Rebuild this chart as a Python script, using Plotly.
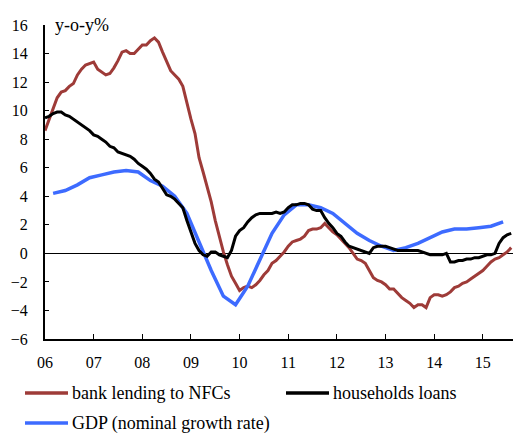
import plotly.graph_objects as go

# Monthly series, Jan 2006 .. Aug 2015 (y-o-y %)
nfc_lending = [
    8.6, 9.4, 10.2, 10.9, 11.3, 11.4, 11.7, 11.9, 12.5, 12.9, 13.2, 13.3,
    13.4, 12.9, 12.7, 12.5, 12.6, 13.0, 13.5, 14.1, 14.2, 14.0, 14.0, 14.3,
    14.6, 14.6, 14.9, 15.1, 14.8, 14.1, 13.4, 12.8, 12.5, 12.2, 11.7, 10.5,
    9.4, 8.4, 6.7, 5.7, 4.7, 3.6, 2.3, 1.1, 0.1, -0.8, -1.6, -2.1,
    -2.6, -2.4, -2.3, -2.4, -2.2, -1.9, -1.5, -1.2, -0.7, -0.5, -0.2, 0.1,
    0.5, 0.8, 0.9, 1.0, 1.2, 1.6, 1.7, 1.7, 1.8, 2.1, 1.8, 1.5,
    1.3, 1.0, 0.7, 0.4, 0.0, -0.4, -0.5, -0.7, -1.2, -1.7, -1.9, -2.0,
    -2.2, -2.5, -2.5, -2.8, -3.1, -3.3, -3.5, -3.8, -3.6, -3.6, -3.8, -3.1,
    -2.9, -2.9, -3.0, -2.9, -2.7, -2.4, -2.3, -2.1, -2.0, -1.8, -1.6, -1.4,
    -1.2, -0.9, -0.6, -0.4, -0.3, -0.1, 0.1, 0.4,
]
household_loans = [
    9.5, 9.6, 9.8, 9.9, 9.9, 9.7, 9.6, 9.4, 9.2, 9.0, 8.8, 8.6,
    8.3, 8.2, 8.0, 7.8, 7.5, 7.4, 7.1, 7.0, 6.9, 6.8, 6.6, 6.3,
    6.1, 5.9, 5.6, 5.2, 5.0, 4.5, 4.1, 4.0, 3.8, 3.5, 3.2, 2.3,
    1.5, 0.7, 0.2, -0.1, -0.2, 0.1, 0.1, -0.1, -0.2, -0.3, 0.2, 1.2,
    1.6, 1.8, 2.2, 2.5, 2.7, 2.8, 2.8, 2.8, 2.8, 2.9, 2.8, 2.9,
    3.2, 3.4, 3.4, 3.5, 3.5, 3.4, 3.1, 3.0, 3.0, 2.5, 2.1, 1.8,
    1.4, 1.2, 0.8, 0.5, 0.4, 0.3, 0.2, 0.1, 0.0, 0.4, 0.5, 0.5,
    0.5, 0.4, 0.3, 0.2, 0.2, 0.2, 0.2, 0.2, 0.2, 0.1, 0.0, -0.1,
    -0.1, -0.1, -0.1, 0.0, -0.6, -0.6, -0.5, -0.5, -0.4, -0.4, -0.3, -0.3,
    -0.2, -0.1, -0.1, 0.0, 0.7, 1.1, 1.3, 1.4,
]
# Quarterly nominal GDP growth, 2006Q1 .. 2015Q2
gdp_nominal = [
    4.2, 4.4, 4.8, 5.3, 5.5, 5.7, 5.8, 5.7, 5.1, 4.7, 4.0, 2.8,
    0.8, -1.2, -3.0, -3.6, -2.3, -0.5, 1.4, 2.7, 3.4, 3.4, 3.2, 2.8,
    2.1, 1.4, 0.9, 0.5, 0.2, 0.4, 0.7, 1.1, 1.5, 1.7, 1.7, 1.8,
    1.9, 2.2,
]
year_ticks = list(range(2006, 2016))
year_labels = ["06", "07", "08", "09", "10", "11", "12", "13", "14", "15"]
legend_names = ["bank lending to NFCs", "households loans", "GDP (nominal growth rate)"]

RED = "#9E3B38"
BLACK = "#000000"
BLUE = "#3D6BFF"

x_month = [2006 + i / 12 for i in range(len(nfc_lending))]
x_quarter = [2006 + (2 + 3 * k) / 12 for k in range(len(gdp_nominal))]

fig = go.Figure()
fig.add_trace(go.Scatter(x=x_month, y=nfc_lending, mode="lines",
                         line=dict(color=RED, width=3), name=legend_names[0]))
fig.add_trace(go.Scatter(x=x_quarter, y=gdp_nominal, mode="lines",
                         line=dict(color=BLUE, width=3.5), name=legend_names[2]))
fig.add_trace(go.Scatter(x=x_month, y=household_loans, mode="lines",
                         line=dict(color=BLACK, width=3), name=legend_names[1]))

FONT = "Liberation Serif, Times New Roman, serif"

L, T, B = 45, 25, 95
PW, PH = 513 - L, 434 - T - B

fig.update_layout(
    width=513, height=434,
    margin=dict(l=L, r=0, t=T, b=B, pad=0),
    paper_bgcolor="white", plot_bgcolor="white",
    showlegend=False,
    font=dict(family=FONT, size=15, color="black"),
    xaxis=dict(range=[2006, 2015.62], tickvals=year_ticks, ticktext=year_labels,
               showgrid=False, zeroline=False, showline=True, linecolor="black",
               linewidth=2, ticks="inside", ticklen=5, tickwidth=1, tickcolor="black",
               ticklabelstandoff=8, tickfont=dict(family=FONT, size=16)),
    yaxis=dict(range=[-6, 16], tickvals=list(range(-6, 17, 2)),
               showgrid=False, zeroline=True, zerolinecolor="black", zerolinewidth=1,
               showline=True, linecolor="black", linewidth=2,
               ticks="inside", ticklen=4, tickwidth=1, tickcolor="black",
               ticklabelstandoff=12, tickfont=dict(family=FONT, size=16)),
)

fig.add_annotation(x=(53 - L) / PW, y=1.0, xref="paper", yref="paper", text="y-o-y%",
                   showarrow=False, xanchor="left", yanchor="middle",
                   font=dict(family=FONT, size=18, color="black"))

# custom legend (positions in page pixels converted to paper coords)
legend_items = [
    (25, 393, RED, legend_names[0]),
    (286, 393, BLACK, legend_names[1]),
    (25, 423, BLUE, legend_names[2]),
]
for px, py, col, name in legend_items:
    yy = (434 - B - py) / PH
    fig.add_shape(type="line", xref="paper", yref="paper",
                  x0=(px - L) / PW, x1=(px + 43 - L) / PW, y0=yy, y1=yy,
                  line=dict(color=col, width=3.5))
    fig.add_annotation(xref="paper", yref="paper",
                       x=(px + 45 - L) / PW, y=yy,
                       text=name, showarrow=False, xanchor="left", yanchor="middle",
                       font=dict(family=FONT, size=18, color="black"))

fig.write_html("out.html", config={"displayModeBar": False},
               post_script="document.body.style.margin='0px';document.body.style.overflow='hidden';")
